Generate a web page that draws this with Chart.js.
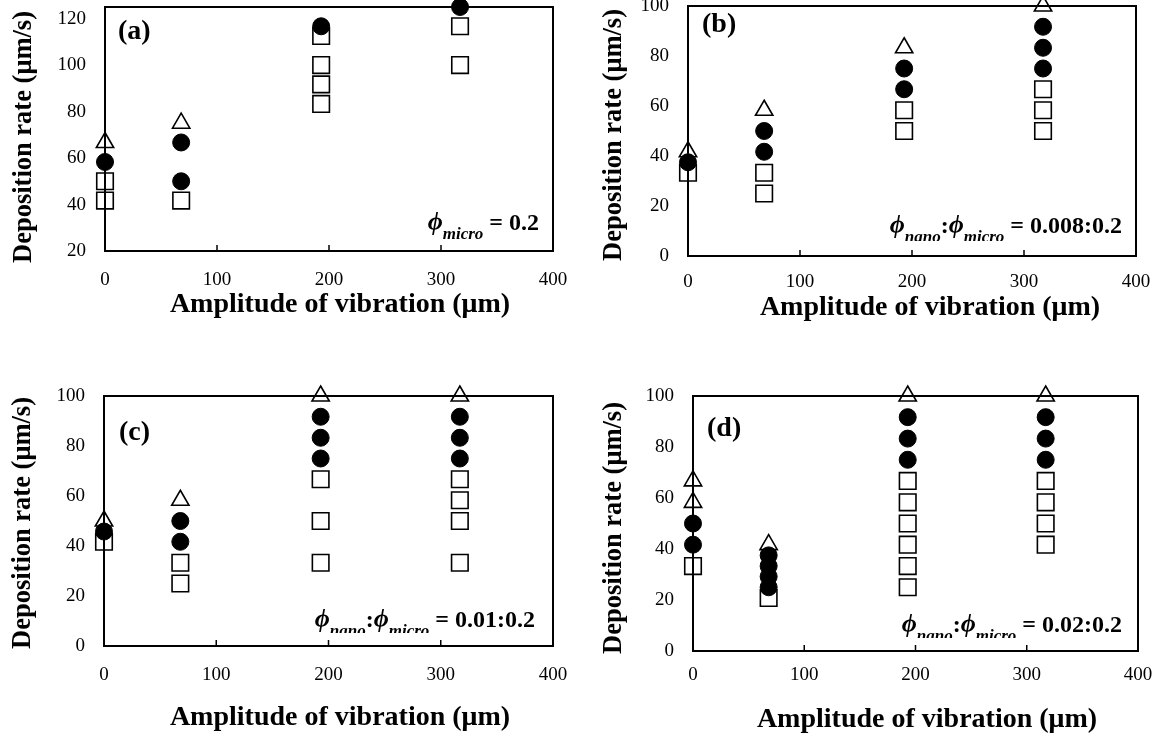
<!DOCTYPE html>
<html>
<head>
<meta charset="utf-8">
<title>Deposition rate vs amplitude of vibration</title>
<script src="https://cdn.jsdelivr.net/npm/chart.js@4/dist/chart.umd.min.js"></script>
<style>
  html, body { margin: 0; padding: 0; background: #fff; }
  body { position: relative; width: 1173px; height: 740px; overflow: hidden; }
  canvas { position: absolute; }
</style>
</head>
<body>
<canvas id="chartA" width="590" height="335" style="left:0;top:0"></canvas>
<canvas id="chartB" width="593" height="335" style="left:580px;top:0"></canvas>
<canvas id="chartC" width="590" height="370" style="left:0;top:370px"></canvas>
<canvas id="chartD" width="593" height="370" style="left:580px;top:370px"></canvas>
<script>
// amplitudes where the runs were taken (µm)
const amplitudes = [0, 68, 193, 317];
const xTicks = [0, 100, 200, 300, 400];
const yTicksA = [20, 40, 60, 80, 100, 120];
const yTicksBCD = [0, 20, 40, 60, 80, 100];
const xTitle = 'Amplitude of vibration (\u03BCm)';
const yTitle = 'Deposition rate (\u03BCm/s)';

// deposition rates (µm/s), one list per amplitude
// (a) phi_micro = 0.2
const aSquares   = [[41.7, 50], [41.7], [83.3, 91.7, 100, 112.5], [100, 116.7]];
const aCircles   = [[58.3], [50, 66.7], [116.7], [125]];
const aTriangles = [[66.7], [75], [], []];

// (b) 0.008:0.2
const bSquares   = [[33.3], [25, 33.3], [50, 58.3], [50, 58.3, 66.7]];
const bCircles   = [[37.5], [41.7, 50], [66.7, 75], [75, 83.3, 91.7]];
const bTriangles = [[41.7], [58.3], [83.3], [100]];

// (c) 0.01:0.2
const cSquares   = [[41.7], [25, 33.3], [33.3, 50, 66.7], [33.3, 50, 58.3, 66.7]];
const cCircles   = [[45.8], [41.7, 50], [75, 83.3, 91.7], [75, 83.3, 91.7]];
const cTriangles = [[50], [58.3], [100], [100]];

// (d) 0.02:0.2
const dSquares   = [[33.3], [20.8], [25, 33.3, 41.7, 50, 58.3, 66.7], [41.7, 50, 58.3, 66.7]];
const dCircles   = [[41.7, 50], [25, 29.2, 33.3, 37.5], [75, 83.3, 91.7], [75, 83.3, 91.7]];
const dTriangles = [[58.3, 66.7], [41.7], [100], [100]];

const SERIF = "'Liberation Serif', 'Times New Roman', 'DejaVu Serif', serif";
Chart.defaults.font.family = SERIF;
Chart.defaults.color = '#000';

function toPoints(rows) {
  const pts = [];
  rows.forEach((rates, i) => rates.forEach(r => pts.push({ x: amplitudes[i], y: r })));
  return pts;
}

// keep the plot box exactly where the layout puts it
function noScalePadding(s) {
  s.paddingTop = s.paddingBottom = s.paddingLeft = s.paddingRight = 0;
}

// frame, inner tick marks, axis titles, panel letter and the concentration note
const panelDecor = {
  id: 'panelDecor',
  beforeDatasetsDraw(chart, args, o) {
    const { ctx, chartArea: a, scales: { x } } = chart;
    ctx.save();
    ctx.strokeStyle = '#000';
    ctx.lineWidth = 2;
    ctx.strokeRect(a.left, a.top, a.right - a.left, a.bottom - a.top);
    ctx.lineWidth = 1.5;
    xTicks.slice(1, -1).forEach(v => {
      const px = x.getPixelForValue(v);
      ctx.beginPath();
      ctx.moveTo(px, a.bottom);
      ctx.lineTo(px, a.bottom - 6);
      ctx.stroke();
    });
    ctx.restore();
  },
  afterDraw(chart, args, o) {
    const { ctx, chartArea: a } = chart;
    ctx.save();
    ctx.fillStyle = '#000';
    ctx.textBaseline = 'middle';

    // axis titles
    ctx.textAlign = 'center';
    ctx.font = 'bold 28px ' + SERIF;
    ctx.fillText(xTitle, o.xTitleAt[0], o.xTitleAt[1]);
    ctx.save();
    ctx.translate(o.yTitleAt[0], o.yTitleAt[1]);
    ctx.rotate(-Math.PI / 2);
    ctx.font = 'bold 26.5px ' + SERIF;
    ctx.fillText(yTitle, 0, 0);
    ctx.restore();

    ctx.textAlign = 'left';
    ctx.font = 'bold 28px ' + SERIF;
    ctx.fillText(o.letter, a.left + o.letterDx, a.top + o.letterDy);

    const fonts = {
      phi: 'italic bold 26px ' + SERIF,
      sub: 'italic bold 17px ' + SERIF,
      main: 'bold 24px ' + SERIF
    };
    ctx.textBaseline = 'alphabetic';
    let total = 0;
    o.note.forEach(([t, k]) => { ctx.font = fonts[k]; total += ctx.measureText(t).width; });
    const base = a.bottom - o.noteDy;
    if (o.clipDy != null) {
      ctx.beginPath();
      ctx.rect(a.left, a.top, a.right - a.left, a.bottom - o.clipDy - a.top);
      ctx.clip();
    }
    let cx = a.right - o.noteDx - total;
    o.note.forEach(([t, k]) => {
      ctx.font = fonts[k];
      ctx.fillText(t, cx, k === 'sub' ? base + 9 : base);
      cx += ctx.measureText(t).width;
    });
    ctx.restore();
  }
};

const noteMicro = [['\u03D5', 'phi'], ['micro', 'sub'], [' = 0.2', 'main']];
const noteRatio = r => [['\u03D5', 'phi'], ['nano', 'sub'], [':', 'main'], ['\u03D5', 'phi'], ['micro', 'sub'], [' = ' + r, 'main']];

const panels = [
  { id: 'chartA', yW: 105, xH: 84, padTop: 7, padRight: 37, yMin: 20, yMax: 125, yTicks: yTicksA,
    squares: aSquares, circles: aCircles, triangles: aTriangles, xTickPad: 18,
    decor: { letter: '(a)', letterDx: 13, letterDy: 25, note: noteMicro, noteDx: 14, noteDy: 21, clipDy: null,
             xTitleAt: [340, 305], yTitleAt: [24, 137] } },
  { id: 'chartB', yW: 108, xH: 79, padTop: 6, padRight: 37, yMin: 0, yMax: 100, yTicks: yTicksBCD,
    squares: bSquares, circles: bCircles, triangles: bTriangles, xTickPad: 15,
    decor: { letter: '(b)', letterDx: 14, letterDy: 19, note: noteRatio('0.008:0.2'), noteDx: 14, noteDy: 23, clipDy: 15,
             xTitleAt: [350, 308], yTitleAt: [34, 135] } },
  { id: 'chartC', yW: 104, xH: 94, padTop: 26, padRight: 37, yMin: 0, yMax: 100, yTicks: yTicksBCD,
    squares: cSquares, circles: cCircles, triangles: cTriangles, xTickPad: 18,
    decor: { letter: '(c)', letterDx: 15, letterDy: 37, note: noteRatio('0.01:0.2'), noteDx: 18, noteDy: 19, clipDy: 13,
             xTitleAt: [340, 348], yTitleAt: [23, 153] } },
  { id: 'chartD', yW: 113, xH: 89, padTop: 26, padRight: 35, yMin: 0, yMax: 100, yTicks: yTicksBCD,
    squares: dSquares, circles: dCircles, triangles: dTriangles, xTickPad: 13,
    decor: { letter: '(d)', letterDx: 14, letterDy: 33, note: noteRatio('0.02:0.2'), noteDx: 16, noteDy: 19, clipDy: 13,
             xTitleAt: [347, 350], yTitleAt: [34, 158] } }
];

panels.forEach(p => {
  new Chart(document.getElementById(p.id), {
    type: 'scatter',
    data: {
      datasets: [
        { label: 'circles', data: toPoints(p.circles), clip: false,
          pointStyle: 'circle', pointRadius: 8.5, pointBackgroundColor: '#000', pointBorderColor: '#000', pointBorderWidth: 1 },
        { label: 'triangles', data: toPoints(p.triangles), clip: false,
          pointStyle: 'triangle', pointRadius: 10, pointBackgroundColor: 'rgba(0,0,0,0)', pointBorderColor: '#000', pointBorderWidth: 1.6 },
        { label: 'squares', data: toPoints(p.squares), clip: false,
          pointStyle: 'rect', pointRadius: 11.7, pointBackgroundColor: 'rgba(0,0,0,0)', pointBorderColor: '#000', pointBorderWidth: 1.6 }
      ]
    },
    options: {
      responsive: false,
      animation: false,
      devicePixelRatio: 1,
      events: [],
      layout: { autoPadding: false, padding: { left: 0, top: p.padTop, right: p.padRight, bottom: 0 } },
      plugins: {
        legend: { display: false },
        tooltip: { enabled: false },
        panelDecor: p.decor
      },
      scales: {
        x: {
          type: 'linear', min: 0, max: 400,
          afterBuildTicks: s => { s.ticks = xTicks.map(v => ({ value: v })); },
          afterFit: s => { s.height = p.xH; noScalePadding(s); },
          grid: { display: false, drawTicks: false },
          border: { display: false },
          ticks: { padding: p.xTickPad, maxRotation: 0, font: { size: 19 }, color: '#000' }
        },
        y: {
          type: 'linear', min: p.yMin, max: p.yMax,
          afterBuildTicks: s => { s.ticks = p.yTicks.map(v => ({ value: v })); },
          afterFit: s => { s.width = p.yW; noScalePadding(s); },
          grid: { display: false, drawTicks: false },
          border: { display: false },
          ticks: { padding: 19, font: { size: 19 }, color: '#000' }
        }
      }
    },
    plugins: [panelDecor]
  });
});
</script>
</body>
</html>
